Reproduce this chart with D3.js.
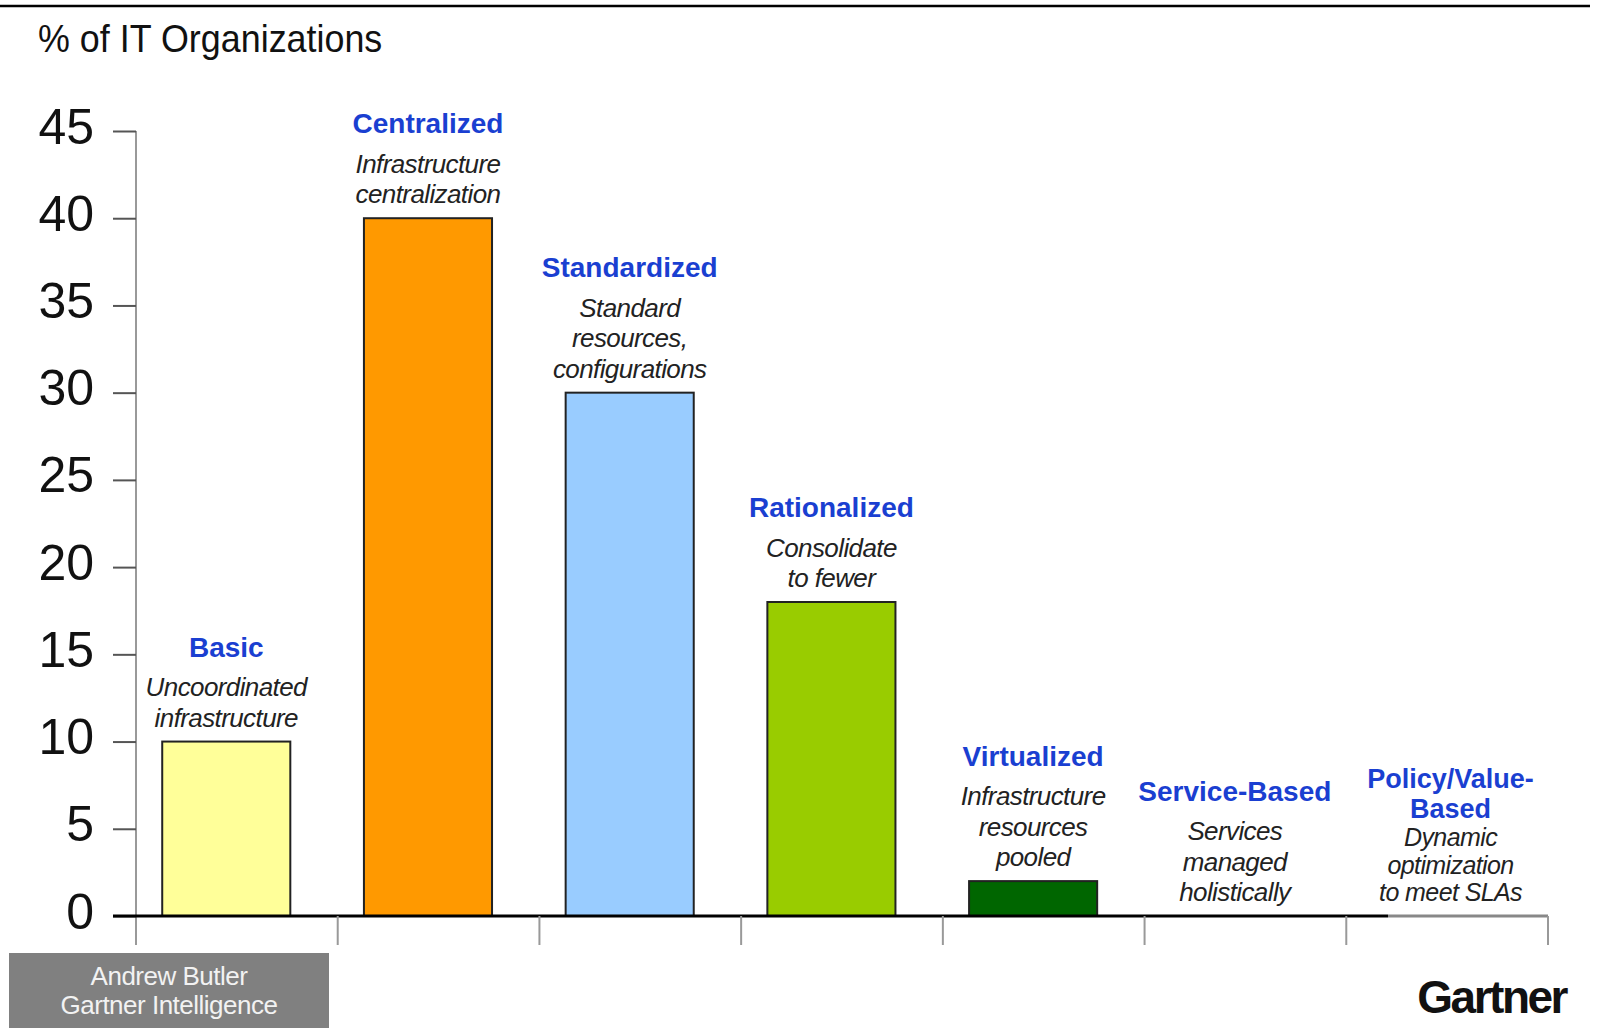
<!DOCTYPE html>
<html>
<head>
<meta charset="utf-8">
<script src="https://cdn.jsdelivr.net/npm/d3@7/dist/d3.min.js"></script>
<style>
  html, body { margin: 0; padding: 0; background: #ffffff; }
  svg { display: block; font-family: "Liberation Sans", Arial, sans-serif; }
</style>
</head>
<body>
<svg id="chart" width="1597" height="1032"></svg>
<script>
// ---- data ----
const categories = ["Basic", "Centralized", "Standardized", "Rationalized", "Virtualized", "Service-Based", "Policy/Value-Based"];
const values = [10, 40, 30, 18, 2, 0, 0];
const titleLines = [["Basic"], ["Centralized"], ["Standardized"], ["Rationalized"], ["Virtualized"], ["Service-Based"], ["Policy/Value-", "Based"]];
const descLines = [
  ["Uncoordinated", "infrastructure"],
  ["Infrastructure", "centralization"],
  ["Standard", "resources,", "configurations"],
  ["Consolidate", "to fewer"],
  ["Infrastructure", "resources", "pooled"],
  ["Services", "managed", "holistically"],
  ["Dynamic", "optimization", "to meet SLAs"]
];
const barColors = ["#ffff99", "#ff9900", "#99ccff", "#99cc00", "#006600", "#cccccc", "#cccccc"];
const yTicks = [0, 5, 10, 15, 20, 25, 30, 35, 40, 45];
const yAxisTitle = "% of IT Organizations";
const authorLines = ["Andrew Butler", "Gartner Intelligence"];
const brand = "Gartner";

// ---- layout ----
const svg = d3.select("#chart");
const x = d3.scaleBand().domain(categories).range([136, 1548]).padding(0);
const y = d3.scaleLinear().domain([0, 45]).range([916, 131]);
const bw = x.bandwidth();
const barOff = 0.13 * bw, barW = 0.635 * bw;

// top border
svg.append("line").attr("x1", 0).attr("x2", 1590).attr("y1", 6).attr("y2", 6)
  .attr("stroke", "#000").attr("stroke-width", 2.5);

// axis title
svg.append("text").attr("transform", "translate(38,52) scale(0.92,1)")
  .attr("font-size", 39).attr("fill", "#111").text(yAxisTitle);

// y axis line (gray)
svg.append("line").attr("x1", 136).attr("x2", 136).attr("y1", y(45)).attr("y2", 945)
  .attr("stroke", "#999").attr("stroke-width", 2);

// y ticks via d3 axis
const yAxis = svg.append("g").attr("transform", "translate(136,0)")
  .call(d3.axisLeft(y).tickValues(yTicks).tickSize(23).tickPadding(19).tickFormat(d3.format("d")));
yAxis.select(".domain").remove();
yAxis.selectAll(".tick line").attr("stroke", "#555").attr("stroke-width", 2);
yAxis.selectAll(".tick text").attr("font-size", 50).attr("fill", "#111")
  .attr("font-family", "'Liberation Sans', Arial, sans-serif").attr("dy", "0.24em");

// bars
svg.append("g").selectAll("rect").data(categories).join("rect")
  .attr("x", (d) => x(d) + barOff)
  .attr("width", barW)
  .attr("y", (d, i) => y(values[i]))
  .attr("height", (d, i) => y(0) - y(values[i]))
  .attr("fill", (d, i) => barColors[i])
  .attr("stroke", "#222").attr("stroke-width", (d, i) => values[i] > 0 ? 2 : 0);

// x axis
const xEnd = x.range()[1];
svg.append("line").attr("x1", 113).attr("x2", 1388).attr("y1", y(0)).attr("y2", y(0))
  .attr("stroke", "#000").attr("stroke-width", 3);
svg.append("line").attr("x1", 1388).attr("x2", xEnd).attr("y1", y(0)).attr("y2", y(0))
  .attr("stroke", "#888").attr("stroke-width", 3);
const bounds = categories.map((c) => x(c)).concat([xEnd]);
svg.append("g").selectAll("line").data(bounds.slice(1)).join("line")
  .attr("x1", (d) => d).attr("x2", (d) => d)
  .attr("y1", y(0)).attr("y2", 945)
  .attr("stroke", "#999").attr("stroke-width", 2);

// labels above bars
categories.forEach((c, i) => {
  const compact = titleLines[i].length + descLines[i].length > 4;
  const cx = x(c) + barOff + barW / 2 + (compact ? 14 : 0);
  const subH = compact ? 27.5 : 30.5;
  const gap = compact ? 28.5 : 39.5;
  const titleH = compact ? 29.5 : 28.5;
  const nd = descLines[i].length, nt = titleLines[i].length;
  const descBottom = y(values[i]) - 15;
  const descTop = descBottom - (nd - 1) * subH;
  const titleBottom = descTop - gap;
  const titleTop = titleBottom - (nt - 1) * titleH;
  const g = svg.append("g");
  g.append("text").attr("text-anchor", "middle")
    .attr("font-size", compact ? 25 : 26).attr("font-style", "italic").attr("fill", "#222")
    .attr("letter-spacing", -0.6)
    .selectAll("tspan").data(descLines[i]).join("tspan")
    .attr("x", cx).attr("y", (d, k) => descTop + k * subH).text((d) => d);
  g.append("text").attr("text-anchor", "middle")
    .attr("font-size", compact ? 27 : 28).attr("font-weight", "bold").attr("fill", "#1a3fd1")
    .selectAll("tspan").data(titleLines[i]).join("tspan")
    .attr("x", cx).attr("y", (d, k) => titleTop + k * titleH).text((d) => d);
});

// author box
svg.append("rect").attr("x", 9).attr("y", 953).attr("width", 320).attr("height", 75).attr("fill", "#808080");
svg.append("text").attr("text-anchor", "middle")
  .attr("font-size", 26).attr("fill", "#f2f2f2").attr("letter-spacing", -0.5)
  .selectAll("tspan").data(authorLines).join("tspan")
  .attr("x", 169).attr("y", (d, k) => 985 + k * 29).text((d) => d);

// brand
svg.append("text").attr("x", 1566).attr("y", 1013).attr("text-anchor", "end")
  .attr("font-size", 46).attr("font-weight", "bold").attr("fill", "#111")
  .attr("letter-spacing", -2.5).text(brand);
</script>
</body>
</html>
